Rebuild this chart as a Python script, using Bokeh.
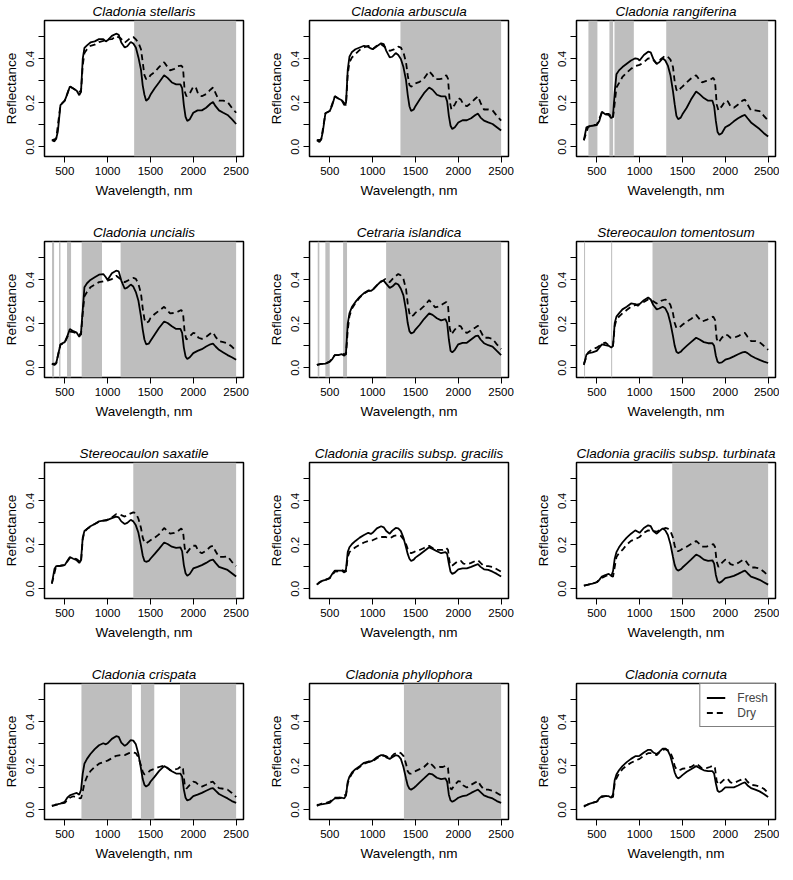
from bokeh.plotting import figure
from bokeh.models import (Range1d, FixedTicker, PrintfTickFormatter, BoxAnnotation,
                          Legend, LegendItem)
from bokeh.layouts import column, row
from bokeh.embed import file_html
from bokeh.resources import INLINE

# ---------------- data ----------------
WL_FRESH = [350, 380, 400, 420, 450, 500, 530, 560, 600, 640,
            670, 690, 710, 730, 760, 800, 850, 900, 950, 980,
            1000, 1050, 1100, 1130, 1160, 1200, 1230, 1270, 1300, 1330,
            1360, 1390, 1410, 1430, 1450, 1480, 1500, 1550, 1600, 1660,
            1700, 1750, 1800, 1850, 1870, 1890, 1910, 1930, 1960, 2000,
            2050, 2100, 2150, 2200, 2230, 2260, 2300, 2350, 2400, 2450,
            2500]

WL_DRY = [350, 400, 450, 500, 560, 600, 640, 690, 710, 730,
          760, 800, 850, 900, 950, 1000, 1050, 1100, 1150, 1200,
          1250, 1300, 1330, 1360, 1390, 1410, 1430, 1450, 1480, 1500,
          1550, 1600, 1660, 1700, 1730, 1780, 1820, 1860, 1880, 1900,
          1920, 1960, 2000, 2030, 2060, 2100, 2150, 2200, 2230, 2260,
          2300, 2350, 2400, 2450, 2500]

TITLES = ["Cladonia stellaris", "Cladonia arbuscula", "Cladonia rangiferina",
          "Cladonia uncialis", "Cetraria islandica", "Stereocaulon tomentosum",
          "Stereocaulon saxatile", "Cladonia gracilis subsp. gracilis",
          "Cladonia gracilis subsp. turbinata", "Cladonia crispata",
          "Cladonia phyllophora", "Cladonia cornuta"]

fresh_stellaris = [.030, .025, .037, .070, .190, .210, .240, .275, .265, .255,
                   .235, .250, .400, .450, .462, .475, .480, .490, .490, .480,
                   .485, .505, .515, .510, .475, .452, .458, .477, .470, .452,
                   .407, .350, .280, .237, .210, .220, .237, .267, .293, .326,
                   .314, .293, .284, .284, .267, .190, .136, .118, .126, .155,
                   .166, .166, .178, .196, .204, .185, .166, .155, .145, .126,
                   .104]
dry_stellaris = [.030, .037, .190, .210, .275, .265, .255, .250, .370, .427,
                 .444, .460, .465, .477, .482, .489, .490, .504, .495, .474,
                 .490, .500, .489, .474, .444, .385, .326, .308, .310, .326,
                 .340, .363, .385, .363, .348, .355, .367, .370, .360, .252,
                 .230, .244, .274, .270, .237, .230, .240, .260, .270, .244,
                 .210, .210, .204, .178, .155]
shade_stellaris = [(1310, 2500)]

fresh_arbuscula = [.030, .022, .033, .070, .153, .163, .190, .230, .220, .212,
                   .190, .200, .350, .410, .432, .444, .452, .460, .455, .448,
                   .444, .458, .471, .468, .437, .407, .410, .427, .418, .400,
                   .363, .304, .237, .185, .163, .170, .185, .215, .244, .270,
                   .260, .237, .230, .230, .207, .141, .096, .081, .089, .111,
                   .121, .121, .130, .145, .151, .133, .119, .111, .104, .089,
                   .074]
dry_arbuscula = [.030, .033, .153, .163, .230, .220, .212, .190, .330, .385,
                 .407, .422, .441, .452, .460, .444, .460, .467, .452, .437,
                 .444, .456, .452, .430, .385, .326, .281, .274, .280, .289,
                 .296, .311, .344, .326, .308, .308, .311, .326, .310, .207,
                 .170, .193, .222, .215, .193, .185, .200, .220, .230, .200,
                 .170, .170, .166, .141, .119]
shade_arbuscula = [(1325, 2500)]

fresh_rangiferina = [.030, .089, .092, .094, .096, .099, .118, .160, .148, .145,
                     .130, .140, .250, .330, .348, .363, .378, .393, .403, .400,
                     .393, .418, .433, .430, .400, .378, .385, .403, .393, .370,
                     .326, .252, .193, .141, .126, .133, .148, .178, .215, .252,
                     .240, .222, .210, .210, .185, .118, .067, .055, .062, .089,
                     .100, .116, .130, .141, .145, .130, .111, .096, .081, .062,
                     .047]
dry_rangiferina = [.030, .090, .100, .100, .155, .150, .150, .130, .200, .270,
                   .290, .318, .338, .355, .367, .373, .385, .403, .400, .378,
                   .400, .415, .410, .397, .363, .296, .259, .252, .267, .274,
                   .293, .311, .326, .304, .293, .300, .304, .314, .300, .193,
                   .166, .185, .210, .207, .185, .178, .193, .210, .215, .193,
                   .166, .166, .163, .141, .119]
shade_rangiferina = [(403, 508), (648, 691), (707, 933), (1311, 2500)]

fresh_uncialis = [.018, .013, .020, .055, .107, .117, .144, .177, .167, .160,
                  .141, .160, .263, .367, .385, .400, .412, .424, .427, .412,
                  .400, .430, .442, .439, .397, .360, .365, .379, .370, .345,
                  .305, .233, .174, .129, .107, .110, .122, .152, .181, .211,
                  .204, .189, .177, .177, .159, .092, .052, .040, .048, .067,
                  .077, .085, .097, .107, .110, .097, .082, .070, .058, .048,
                  .037]
dry_uncialis = [.018, .020, .105, .115, .165, .162, .158, .150, .248, .326,
                .345, .367, .379, .390, .394, .397, .404, .419, .404, .390,
                .400, .409, .405, .382, .338, .271, .222, .204, .211, .226,
                .245, .260, .278, .260, .248, .250, .256, .263, .250, .159,
                .129, .144, .159, .156, .137, .132, .141, .156, .162, .141,
                .122, .117, .112, .097, .077]
shade_uncialis = [(352, 376), (434, 450), (527, 574), (698, 935), (1152, 2500)]

fresh_islandica = [.013, .016, .018, .018, .019, .028, .040, .058, .058, .062,
                   .055, .070, .200, .248, .278, .300, .323, .340, .352, .350,
                   .355, .375, .394, .397, .382, .364, .370, .385, .379, .360,
                   .330, .263, .204, .167, .156, .162, .174, .196, .222, .248,
                   .241, .226, .216, .222, .204, .129, .077, .070, .082, .107,
                   .114, .114, .129, .144, .147, .129, .112, .103, .097, .077,
                   .058]
dry_islandica = [.013, .018, .019, .028, .058, .058, .065, .060, .170, .235,
                 .270, .295, .320, .338, .350, .355, .375, .392, .404, .390,
                 .412, .427, .420, .404, .360, .293, .248, .233, .241, .251,
                 .263, .281, .308, .290, .275, .280, .290, .300, .285, .181,
                 .152, .174, .192, .189, .167, .159, .171, .184, .192, .167,
                 .137, .137, .132, .107, .085]
shade_islandica = [(360, 379), (449, 500), (656, 702), (1158, 2500)]

fresh_tomentosum = [.013, .060, .067, .068, .070, .077, .092, .107, .103, .100,
                    .092, .100, .204, .233, .248, .266, .278, .293, .290, .282,
                    .290, .308, .320, .311, .286, .266, .270, .278, .271, .248,
                    .204, .144, .100, .073, .067, .073, .082, .100, .117, .137,
                    .129, .117, .112, .112, .100, .055, .028, .022, .025, .037,
                    .043, .052, .062, .070, .073, .067, .055, .045, .036, .028,
                    .022]
dry_tomentosum = [.018, .070, .085, .092, .109, .115, .103, .100, .190, .219,
                  .233, .248, .263, .278, .286, .290, .300, .311, .305, .293,
                  .305, .311, .305, .286, .248, .204, .181, .181, .189, .196,
                  .211, .222, .241, .222, .211, .218, .226, .233, .218, .132,
                  .115, .137, .152, .148, .137, .137, .144, .156, .159, .141,
                  .122, .122, .117, .100, .082]
shade_tomentosum = [(352, 364), (668, 680), (1151, 2500)]

fresh_saxatile = [.024, .090, .103, .104, .105, .108, .127, .145, .137, .130,
                  .118, .130, .233, .263, .273, .285, .295, .307, .310, .310,
                  .314, .322, .329, .325, .307, .295, .300, .314, .307, .289,
                  .255, .196, .152, .127, .123, .127, .137, .159, .182, .211,
                  .204, .192, .186, .189, .171, .108, .071, .059, .068, .093,
                  .100, .108, .118, .130, .133, .118, .100, .093, .086, .071,
                  .056]
dry_saxatile = [.024, .103, .105, .108, .140, .140, .135, .120, .225, .260,
                .272, .283, .295, .305, .310, .315, .325, .340, .337, .329,
                .340, .348, .345, .319, .277, .233, .211, .207, .215, .221,
                .233, .248, .277, .263, .251, .255, .263, .275, .263, .186,
                .162, .182, .196, .196, .171, .162, .174, .192, .196, .171,
                .145, .145, .148, .123, .103]
shade_saxatile = [(1300, 2500)]

fresh_gracilis = [.019, .030, .034, .037, .041, .049, .068, .083, .083, .083,
                  .074, .090, .167, .189, .204, .218, .233, .245, .255, .250,
                  .255, .275, .285, .280, .263, .251, .265, .277, .275, .263,
                  .233, .189, .159, .137, .127, .133, .142, .156, .171, .189,
                  .182, .171, .162, .167, .159, .115, .078, .068, .074, .089,
                  .093, .093, .100, .108, .112, .100, .089, .086, .078, .068,
                  .056]
dry_gracilis = [.019, .034, .041, .049, .078, .080, .085, .078, .145, .167,
                .177, .189, .201, .211, .218, .221, .230, .236, .236, .230,
                .241, .245, .241, .226, .204, .182, .167, .162, .167, .171,
                .177, .186, .196, .186, .177, .177, .177, .186, .177, .118,
                .103, .115, .127, .127, .115, .112, .118, .127, .130, .118,
                .103, .103, .100, .089, .078]
shade_gracilis = []

fresh_turbinata = [.015, .017, .019, .021, .024, .030, .041, .056, .063, .068,
                   .059, .080, .137, .167, .189, .211, .233, .251, .266, .260,
                   .255, .277, .289, .285, .263, .251, .262, .275, .266, .245,
                   .204, .145, .108, .089, .083, .089, .097, .115, .133, .156,
                   .148, .133, .127, .130, .115, .063, .034, .027, .034, .049,
                   .053, .059, .068, .078, .083, .071, .056, .049, .041, .030,
                   .019]
dry_turbinata = [.015, .019, .024, .030, .050, .058, .063, .055, .100, .145,
                 .162, .177, .201, .218, .226, .236, .255, .266, .263, .260,
                 .270, .277, .274, .263, .233, .196, .174, .171, .177, .182,
                 .192, .204, .218, .204, .192, .192, .196, .204, .192, .123,
                 .100, .118, .133, .130, .112, .108, .118, .130, .133, .115,
                 .097, .097, .093, .078, .059]
shade_turbinata = [(1381, 2500)]

fresh_crispata = [.019, .022, .025, .026, .028, .037, .055, .066, .072, .077,
                  .069, .090, .165, .210, .232, .254, .276, .294, .303, .298,
                  .303, .323, .335, .332, .306, .291, .300, .317, .315, .298,
                  .254, .187, .140, .114, .106, .114, .128, .151, .176, .199,
                  .190, .176, .165, .165, .151, .092, .055, .043, .047, .062,
                  .069, .077, .087, .096, .099, .087, .072, .062, .052, .040,
                  .032]
dry_crispata = [.017, .022, .028, .032, .055, .062, .055, .052, .084, .121,
                .151, .176, .195, .210, .217, .224, .235, .246, .249, .249,
                .258, .261, .258, .239, .202, .173, .161, .165, .173, .180,
                .187, .195, .202, .190, .180, .183, .187, .199, .187, .114,
                .096, .114, .128, .125, .114, .106, .114, .125, .128, .114,
                .099, .096, .092, .077, .058]
shade_crispata = [(695, 1284), (1389, 1545), (1845, 2500)]

fresh_phyllophora = [.022, .024, .025, .026, .028, .032, .043, .052, .052, .055,
                     .052, .065, .128, .151, .170, .185, .199, .214, .220, .220,
                     .224, .239, .249, .249, .239, .232, .239, .249, .246, .232,
                     .195, .143, .111, .096, .092, .099, .106, .125, .143, .165,
                     .161, .146, .140, .143, .128, .069, .043, .037, .043, .055,
                     .062, .066, .077, .087, .092, .081, .066, .058, .052, .040,
                     .032]
dry_phyllophora = [.018, .028, .030, .037, .055, .055, .058, .070, .120, .143,
                   .165, .180, .195, .210, .217, .220, .235, .246, .246, .235,
                   .254, .262, .258, .246, .210, .176, .165, .165, .173, .176,
                   .185, .195, .217, .202, .190, .195, .195, .202, .190, .106,
                   .092, .114, .131, .128, .111, .102, .114, .125, .131, .111,
                   .092, .092, .087, .077, .065]
shade_phyllophora = [(1366, 2500)]

fresh_cornuta = [.018, .022, .025, .028, .032, .037, .052, .062, .062, .062,
                 .055, .070, .136, .161, .180, .199, .217, .232, .244, .244,
                 .246, .261, .273, .273, .261, .254, .264, .279, .279, .269,
                 .244, .202, .170, .151, .143, .151, .158, .173, .185, .199,
                 .190, .180, .176, .176, .165, .121, .087, .081, .087, .102,
                 .102, .102, .111, .121, .125, .111, .099, .092, .084, .072,
                 .058]
dry_cornuta = [.014, .025, .032, .037, .058, .062, .062, .058, .121, .143,
               .165, .185, .202, .214, .224, .232, .246, .258, .258, .249,
               .269, .276, .272, .261, .232, .199, .185, .180, .183, .187,
               .190, .195, .210, .199, .187, .190, .195, .202, .190, .131,
               .114, .128, .143, .140, .125, .121, .131, .140, .143, .128,
               .114, .111, .106, .096, .077]
shade_cornuta = []

FRESH = [fresh_stellaris, fresh_arbuscula, fresh_rangiferina, fresh_uncialis,
         fresh_islandica, fresh_tomentosum, fresh_saxatile, fresh_gracilis,
         fresh_turbinata, fresh_crispata, fresh_phyllophora, fresh_cornuta]
DRY = [dry_stellaris, dry_arbuscula, dry_rangiferina, dry_uncialis,
       dry_islandica, dry_tomentosum, dry_saxatile, dry_gracilis,
       dry_turbinata, dry_crispata, dry_phyllophora, dry_cornuta]
SHADE = [shade_stellaris, shade_arbuscula, shade_rangiferina, shade_uncialis,
         shade_islandica, shade_tomentosum, shade_saxatile, shade_gracilis,
         shade_turbinata, shade_crispata, shade_phyllophora, shade_cornuta]

X_TICKS = [500, 1000, 1500, 2000, 2500]
Y_TICKS = [0.0, 0.2, 0.4]
Y_MINOR = [0.1, 0.3, 0.5]

for f in FRESH:
    assert len(f) == len(WL_FRESH), len(f)
for d in DRY:
    assert len(d) == len(WL_DRY), len(d)

# ---------------- layout ----------------
FONT = "Liberation Sans"
FRAME_W, FRAME_H = 199, 136
LEFT = [44, 45, 42]
RIGHT = [21, 24, 4]
TOP = [20, 20, 20, 20]
BOTTOM = [65, 65, 65, 45]
SHADE_COLOR = "#BEBEBE"


def make_panel(i):
    r, c = divmod(i, 3)
    p = figure(frame_width=FRAME_W, frame_height=FRAME_H,
               min_border_left=LEFT[c], min_border_right=RIGHT[c],
               min_border_top=TOP[r], min_border_bottom=BOTTOM[r],
               x_range=Range1d(264, 2586), y_range=Range1d(-0.044, 0.575),
               output_backend="svg", toolbar_location=None, title=TITLES[i])
    p.xgrid.visible = False
    p.ygrid.visible = False
    p.outline_line_color = "black"
    p.outline_line_width = 1.5
    p.outline_line_alpha = 1.0
    p.background_fill_color = "white"
    p.border_fill_color = "white"

    p.title.text_font = FONT
    p.title.text_font_style = "italic"
    p.title.text_font_size = "13.5px"
    p.title.align = "center"
    p.title.standoff = 3
    p.title.text_color = "black"

    for ax in (p.xaxis[0], p.yaxis[0]):
        ax.axis_line_color = None
        ax.major_tick_in = 0
        ax.major_tick_out = 6
        ax.minor_tick_in = 0
        ax.minor_tick_out = 6
        ax.major_tick_line_color = "black"
        ax.minor_tick_line_color = "black"
        ax.major_label_text_font = FONT
        ax.major_label_text_font_size = "11.5px"
        ax.major_label_text_color = "black"
        ax.axis_label_text_font = FONT
        ax.axis_label_text_font_size = "13.5px"
        ax.axis_label_text_font_style = "normal"
        ax.axis_label_text_color = "black"
        ax.major_label_standoff = 4
        ax.axis_label_standoff = 5

    p.xaxis.ticker = FixedTicker(ticks=X_TICKS)
    p.xaxis.axis_label = "Wavelength, nm"
    p.yaxis.ticker = FixedTicker(ticks=Y_TICKS, minor_ticks=Y_MINOR)
    p.yaxis.formatter = PrintfTickFormatter(format="%.1f")
    p.yaxis.major_label_orientation = "vertical"
    p.yaxis.axis_label = "Reflectance"

    for lo, hi in SHADE[i]:
        p.add_layout(BoxAnnotation(left=lo, right=hi, fill_color=SHADE_COLOR,
                                   fill_alpha=1.0, line_color=None, level="underlay"))

    lf = p.line(WL_FRESH, FRESH[i], line_color="black", line_width=1.8)
    ld = p.line(WL_DRY, DRY[i], line_color="black", line_width=1.8, line_dash="6 4")

    if i == len(TITLES) - 1:
        leg = Legend(items=[LegendItem(label="Fresh", renderers=[lf]),
                            LegendItem(label="Dry", renderers=[ld])],
                     location="top_right")
        leg.margin = 0
        leg.padding = 6
        leg.spacing = 0
        leg.glyph_width = 19
        leg.glyph_height = 15
        leg.label_height = 15
        leg.label_standoff = 12
        leg.label_text_font = FONT
        leg.label_text_font_size = "12px"
        leg.border_line_color = "black"
        leg.border_line_width = 1.5
        leg.background_fill_alpha = 1.0
        p.add_layout(leg)
    return p


panels = [make_panel(i) for i in range(12)]
layout = column(*[row(*panels[3 * r:3 * r + 3]) for r in range(4)])

open("out.html", "w").write(file_html(layout, INLINE))
